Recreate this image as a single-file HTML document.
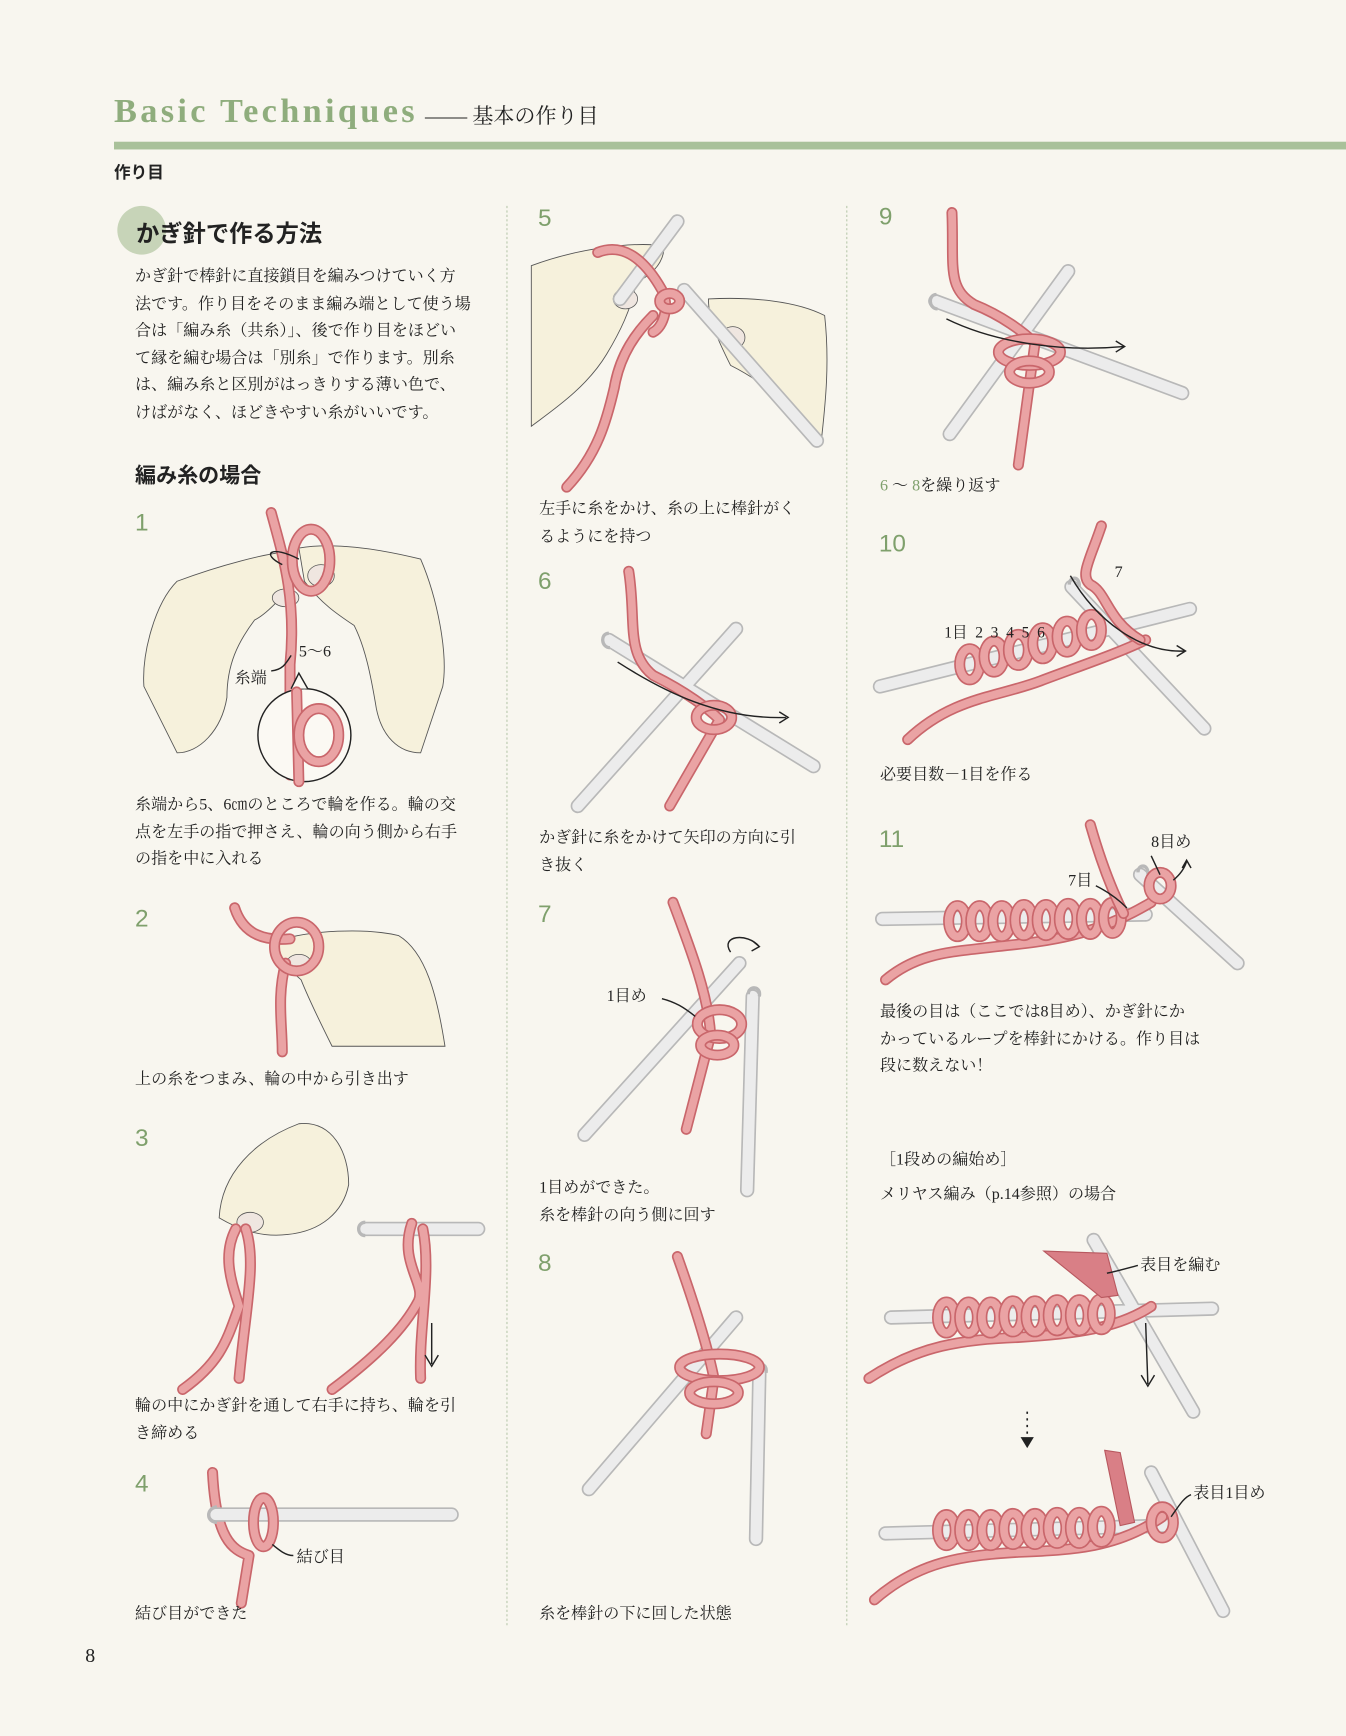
<!DOCTYPE html>
<html><head><meta charset="utf-8">
<style>
html,body{margin:0;padding:0;background:#f8f6ef;}
#wrap{width:1346px;height:1736px;overflow:hidden;position:relative;background:#f8f6ef;}
#page{position:absolute;left:0;top:0;width:1216px;height:1568px;transform:scale(1.10691,1.10714);transform-origin:0 0;}
.t{position:absolute;white-space:nowrap;color:#222;}
.serif{font-family:"Liberation Serif","Noto Serif CJK SC",serif;}
.sans{font-family:"Liberation Sans","Noto Sans CJK JP",sans-serif;}
.num{position:absolute;font-family:"Liberation Sans","DejaVu Sans",sans-serif;color:#7fa06c;font-size:22px;}
.cap{position:absolute;font-family:"Liberation Serif","Noto Serif CJK SC",serif;font-size:14.5px;line-height:24.5px;color:#222;white-space:nowrap;}
svg{position:absolute;left:0;top:0;}
</style></head><body><div id="wrap"><div id="page">
<svg width="1216" height="1568" viewBox="0 0 1216 1568">
<defs>
<style>
.yo{fill:none;stroke:#c9666b;stroke-width:10;stroke-linecap:round;stroke-linejoin:round}
.yi{fill:none;stroke:#eaa3a4;stroke-width:7;stroke-linecap:round;stroke-linejoin:round}
.no{fill:none;stroke:#b8b8b8;stroke-width:13;stroke-linecap:round}
.ni{fill:none;stroke:#ececec;stroke-width:10;stroke-linecap:round}
.hand{fill:#f6f1dc;stroke:#555;stroke-width:0.8}
.ln{fill:none;stroke:#222;stroke-width:1.3}
</style>
</defs>
<!-- header bar -->
<rect x="103" y="128" width="1113" height="7" fill="#a9c19a"/>
<!-- column lines -->
<line x1="458" y1="186" x2="458" y2="1468" stroke="#b9c9ad" stroke-width="1" stroke-dasharray="2,2"/>
<line x1="765" y1="186" x2="765" y2="1468" stroke="#b9c9ad" stroke-width="1" stroke-dasharray="2,2"/>
<circle cx="128" cy="208" r="22" fill="#c7d4b8"/>

<!-- STEP 1 -->
<path class="hand" d="M130,620 C128,590 140,545 160,525 C200,510 240,500 262,498 L265,525 C255,540 240,555 230,560 C215,580 205,600 205,630 C200,660 180,680 160,680 Z"/>
<path class="hand" d="M400,620 C405,590 395,540 380,505 C340,495 300,490 270,495 L275,525 C290,545 305,555 320,565 C330,585 335,610 340,640 C345,665 360,680 380,680 Z"/>
<ellipse cx="258" cy="540" rx="12" ry="8" fill="#efe6e0" stroke="#555" stroke-width=".7"/>
<ellipse cx="290" cy="520" rx="12" ry="10" fill="#efe6e0" stroke="#555" stroke-width=".7"/>
<path class="yo" d="M245,463 C255,500 268,540 262,600 L262,700"/>
<path class="yi" d="M245,463 C255,500 268,540 262,600 L262,700"/>
<ellipse cx="281" cy="506" rx="17" ry="28" class="yo"/><ellipse cx="281" cy="506" rx="17" ry="28" class="yi"/>
<path class="ln" d="M255,510 C235,500 245,492 270,505"/>
<circle cx="275" cy="664" r="42" fill="#fbf9f3" stroke="#222" stroke-width="1.3"/>
<path d="M263,622 L270,608 L278,622" fill="#fbf9f3" stroke="#222" stroke-width="1.3"/>
<path class="yo" d="M268,625 L270,706"/><path class="yi" d="M268,625 L270,706"/>
<ellipse cx="288" cy="664" rx="18" ry="24" class="yo"/><ellipse cx="288" cy="664" rx="18" ry="24" class="yi"/>
<path class="ln" d="M245,606 C255,605 258,600 263,592"/>
<!-- STEP 2 -->
<path class="hand" d="M250,850 C280,840 330,838 360,845 C385,860 395,900 402,945 L300,945 C290,925 280,905 272,885 C260,875 250,862 250,850 Z"/>
<ellipse cx="270" cy="870" rx="11" ry="8" fill="#efe6e0" stroke="#555" stroke-width=".7"/>
<path class="yo" d="M212,820 C220,845 240,850 262,848 M258,870 C250,900 255,925 255,950"/><path class="yi" d="M212,820 C220,845 240,850 262,848 M258,870 C250,900 255,925 255,950"/>
<ellipse cx="268" cy="855" rx="20" ry="22" class="yo"/><ellipse cx="268" cy="855" rx="20" ry="22" class="yi"/>
<!-- STEP 3 -->
<path class="hand" d="M198,1100 C200,1060 230,1030 270,1015 C300,1012 315,1040 315,1070 C310,1095 290,1112 260,1115 C235,1118 215,1110 198,1100 Z"/>
<ellipse cx="226" cy="1104" rx="12" ry="9" fill="#efe6e0" stroke="#555" stroke-width=".7"/>
<path class="yo" d="M213,1110 C200,1135 210,1160 216,1180 C205,1210 200,1230 165,1255 M222,1110 C232,1140 222,1180 216,1245"/><path class="yi" d="M213,1110 C200,1135 210,1160 216,1180 C205,1210 200,1230 165,1255 M222,1110 C232,1140 222,1180 216,1245"/>
<path class="no" d="M330,1110 L432,1110"/><path class="ni" d="M330,1110 L432,1110"/>
<path d="M330,1104 C322,1104 322,1116 330,1116" fill="none" stroke="#b8b8b8" stroke-width="3"/>
<path class="yo" d="M372,1105 C360,1140 385,1160 378,1175 C365,1200 340,1225 300,1255 M382,1110 C390,1150 378,1200 380,1245"/><path class="yi" d="M372,1105 C360,1140 385,1160 378,1175 C365,1200 340,1225 300,1255 M382,1110 C390,1150 378,1200 380,1245"/>
<path class="ln" d="M390,1195 L390,1232 M384,1224 L390,1234 L396,1224"/>
<!-- STEP 4 -->
<path class="yo" d="M192,1330 C195,1390 210,1400 225,1405 L218,1448"/><path class="yi" d="M192,1330 C195,1390 210,1400 225,1405 L218,1448"/>
<path class="no" d="M195,1368 L408,1368"/><path class="ni" d="M195,1368 L408,1368"/>
<path d="M196,1361 C186,1362 186,1375 196,1375" fill="none" stroke="#b8b8b8" stroke-width="3"/>
<ellipse cx="238" cy="1375" rx="9" ry="22" class="yo"/><ellipse cx="238" cy="1375" rx="9" ry="22" class="yi"/>
<path class="ln" d="M246,1395 C252,1400 258,1405 265,1405"/>

<!-- STEP 5 -->
<path class="hand" d="M480,240 C520,225 570,218 600,222 C600,240 585,250 575,255 C570,280 560,300 548,320 C530,350 500,370 480,385 Z"/>
<path class="hand" d="M640,270 C680,268 720,272 745,285 C750,330 745,370 742,398 C720,370 690,345 660,330 C650,310 640,290 640,270 Z"/>
<ellipse cx="565" cy="270" rx="11" ry="9" fill="#efe6e0" stroke="#555" stroke-width=".7"/>
<ellipse cx="662" cy="305" rx="11" ry="10" fill="#efe6e0" stroke="#555" stroke-width=".7"/>
<path class="no" d="M612,200 L560,270 M618,262 L738,398"/><path class="ni" d="M612,200 L560,270 M618,262 L738,398"/>
<path class="yo" d="M540,228 C560,220 580,230 598,262 C605,275 600,295 590,300 M590,285 C575,300 560,320 555,350 C548,380 540,410 512,440"/><path class="yi" d="M540,228 C560,220 580,230 598,262 C605,275 600,295 590,300 M590,285 C575,300 560,320 555,350 C548,380 540,410 512,440"/>
<ellipse cx="605" cy="272" rx="9" ry="7" class="yo"/><ellipse cx="605" cy="272" rx="9" ry="7" class="yi"/>
<!-- STEP 6 -->
<path class="no" d="M665,568 L522,728 M550,578 L735,692"/><path class="ni" d="M665,568 L522,728 M550,578 L735,692"/>
<path d="M550,572 C542,572 543,585 551,585" fill="none" stroke="#b8b8b8" stroke-width="3"/>
<path class="yo" d="M568,516 C575,560 565,590 590,610 C620,625 640,640 650,650 L605,728"/><path class="yi" d="M568,516 C575,560 565,590 590,610 C620,625 640,640 650,650 L605,728"/>
<ellipse cx="645" cy="648" rx="16" ry="11" class="yo"/><ellipse cx="645" cy="648" rx="16" ry="11" class="yi"/>
<path class="ln" d="M558,598 C600,625 650,650 710,648 M704,643 L712,648 L704,653"/>
<!-- STEP 7 -->
<path class="no" d="M668,870 L528,1025 M680,900 L675,1075"/><path class="ni" d="M668,870 L528,1025 M680,900 L675,1075"/>
<path d="M676,898 C676,890 688,890 686,900" fill="none" stroke="#b8b8b8" stroke-width="3"/>
<path class="yo" d="M608,815 C625,860 640,900 642,935 L620,1020"/><path class="yi" d="M608,815 C625,860 640,900 642,935 L620,1020"/>
<ellipse cx="650" cy="925" rx="20" ry="13" class="yo"/><ellipse cx="650" cy="925" rx="20" ry="13" class="yi"/>
<ellipse cx="648" cy="944" rx="15" ry="9" class="yo"/><ellipse cx="648" cy="944" rx="15" ry="9" class="yi"/>
<path class="ln" d="M598,902 C610,905 618,910 628,918 M660,860 C650,845 675,842 686,855 M680,850 L686,855 L679,859"/>
<!-- STEP 8 -->
<path class="no" d="M665,1190 L532,1345 M686,1240 L683,1390"/><path class="ni" d="M665,1190 L532,1345 M686,1240 L683,1390"/>
<path d="M682,1238 C682,1230 694,1230 692,1240" fill="none" stroke="#b8b8b8" stroke-width="3"/>
<path class="yo" d="M612,1135 C628,1180 640,1220 645,1245 L638,1295"/><path class="yi" d="M612,1135 C628,1180 640,1220 645,1245 L638,1295"/>
<ellipse cx="650" cy="1235" rx="36" ry="12" class="yo"/><ellipse cx="650" cy="1235" rx="36" ry="12" class="yi"/>
<ellipse cx="645" cy="1258" rx="22" ry="10" class="yo"/><ellipse cx="645" cy="1258" rx="22" ry="10" class="yi"/>
<!-- STEP 9 -->
<path class="no" d="M965,245 L858,392 M845,272 L1068,355"/><path class="ni" d="M965,245 L858,392 M845,272 L1068,355"/>
<path d="M846,266 C838,266 839,279 847,279" fill="none" stroke="#b8b8b8" stroke-width="3"/>
<path class="yo" d="M860,192 C862,240 855,260 880,275 C905,285 925,300 935,310 L920,420"/><path class="yi" d="M860,192 C862,240 855,260 880,275 C905,285 925,300 935,310 L920,420"/>
<ellipse cx="930" cy="318" rx="28" ry="12" class="yo"/><ellipse cx="930" cy="318" rx="28" ry="12" class="yi"/>
<ellipse cx="930" cy="336" rx="18" ry="10" class="yo"/><ellipse cx="930" cy="336" rx="18" ry="10" class="yi"/>
<path class="ln" d="M855,288 C900,310 960,318 1015,313 M1008,308 L1016,313 L1008,318"/>
<!-- STEP 10 -->
<path class="no" d="M795,620 L1075,550 M968,530 L1088,658"/><path class="ni" d="M795,620 L1075,550 M968,530 L1088,658"/>
<path d="M966,528 C966,520 976,520 975,530" fill="none" stroke="#b8b8b8" stroke-width="3"/>
<path class="yo" d="M820,668 C860,630 900,630 940,615 C980,600 1010,590 1035,578"/><path class="yi" d="M820,668 C860,630 900,630 940,615 C980,600 1010,590 1035,578"/>
<g>
<ellipse cx="876" cy="600" rx="9" ry="14" class="yo"/><ellipse cx="876" cy="600" rx="9" ry="14" class="yi"/>
<ellipse cx="898" cy="593" rx="9" ry="14" class="yo"/><ellipse cx="898" cy="593" rx="9" ry="14" class="yi"/>
<ellipse cx="920" cy="587" rx="9" ry="14" class="yo"/><ellipse cx="920" cy="587" rx="9" ry="14" class="yi"/>
<ellipse cx="942" cy="581" rx="9" ry="14" class="yo"/><ellipse cx="942" cy="581" rx="9" ry="14" class="yi"/>
<ellipse cx="964" cy="575" rx="9" ry="14" class="yo"/><ellipse cx="964" cy="575" rx="9" ry="14" class="yi"/>
<ellipse cx="986" cy="569" rx="9" ry="14" class="yo"/><ellipse cx="986" cy="569" rx="9" ry="14" class="yi"/>
</g>
<path class="yo" d="M995,475 C985,505 975,520 985,528 C1000,535 1000,560 1030,578"/><path class="yi" d="M995,475 C985,505 975,520 985,528 C1000,535 1000,560 1030,578"/>
<path class="ln" d="M967,520 C990,560 1030,590 1070,588 M1063,583 L1071,588 L1063,593"/>
<!-- STEP 11 -->
<path class="no" d="M797,830 L1035,826 M1030,790 L1118,870"/><path class="ni" d="M797,830 L1035,826 M1030,790 L1118,870"/>
<path d="M1028,788 C1028,780 1038,780 1037,790" fill="none" stroke="#b8b8b8" stroke-width="3"/>
<path class="yo" d="M800,885 C830,860 860,860 900,855 C950,850 990,845 1040,815"/><path class="yi" d="M800,885 C830,860 860,860 900,855 C950,850 990,845 1040,815"/>
<g id="ch11">
<ellipse cx="865" cy="832" rx="8" ry="14" class="yo"/><ellipse cx="865" cy="832" rx="8" ry="14" class="yi"/>
<ellipse cx="885" cy="832" rx="8" ry="14" class="yo"/><ellipse cx="885" cy="832" rx="8" ry="14" class="yi"/>
<ellipse cx="905" cy="832" rx="8" ry="14" class="yo"/><ellipse cx="905" cy="832" rx="8" ry="14" class="yi"/>
<ellipse cx="925" cy="831" rx="8" ry="14" class="yo"/><ellipse cx="925" cy="831" rx="8" ry="14" class="yi"/>
<ellipse cx="945" cy="831" rx="8" ry="14" class="yo"/><ellipse cx="945" cy="831" rx="8" ry="14" class="yi"/>
<ellipse cx="965" cy="830" rx="8" ry="14" class="yo"/><ellipse cx="965" cy="830" rx="8" ry="14" class="yi"/>
<ellipse cx="985" cy="830" rx="8" ry="14" class="yo"/><ellipse cx="985" cy="830" rx="8" ry="14" class="yi"/>
<ellipse cx="1005" cy="829" rx="8" ry="14" class="yo"/><ellipse cx="1005" cy="829" rx="8" ry="14" class="yi"/>
</g>
<path class="yo" d="M985,745 C995,780 1005,805 1015,825"/><path class="yi" d="M985,745 C995,780 1005,805 1015,825"/>
<ellipse cx="1048" cy="800" rx="10" ry="12" class="yo"/><ellipse cx="1048" cy="800" rx="10" ry="12" class="yi"/>
<path class="ln" d="M1060,795 C1066,790 1070,785 1072,778 M1068,784 L1072,777 L1076,784 M990,800 C1000,805 1010,812 1018,820 M1040,773 L1048,790"/>
<!-- bottom 1 -->
<path class="no" d="M805,1190 L1095,1182 M988,1120 L1078,1275"/><path class="ni" d="M805,1190 L1095,1182 M988,1120 L1078,1275"/>
<path class="yo" d="M785,1245 C830,1215 870,1210 920,1208 C970,1205 1010,1200 1040,1180"/><path class="yi" d="M785,1245 C830,1215 870,1210 920,1208 C970,1205 1010,1200 1040,1180"/>
<use href="#ch11" transform="translate(-10,358)"/>
<path d="M943,1130 L1000,1132 L1010,1170 L995,1172 Z" fill="#d97f86" stroke="#b8585f"/>
<path class="ln" d="M1000,1150 C1010,1148 1020,1145 1028,1143 M1035,1195 L1037,1250 M1031,1242 L1037,1252 L1043,1242"/>
<path d="M928,1275 L928,1303" stroke="#222" stroke-width="1.5" stroke-dasharray="2,4"/>
<path d="M922,1298 L928,1308 L934,1298 Z" fill="#222"/>
<!-- bottom 2 -->
<path class="no" d="M800,1385 L1055,1378 M1040,1330 L1105,1455"/><path class="ni" d="M800,1385 L1055,1378 M1040,1330 L1105,1455"/>
<path class="yo" d="M790,1445 C830,1410 870,1405 920,1402 C970,1400 1010,1398 1050,1370"/><path class="yi" d="M790,1445 C830,1410 870,1405 920,1402 C970,1400 1010,1398 1050,1370"/>
<use href="#ch11" transform="translate(-10,550)"/>
<path d="M998,1310 L1012,1312 L1025,1375 L1012,1378 Z" fill="#d97f86" stroke="#b8585f"/>
<ellipse cx="1050" cy="1375" rx="10" ry="14" class="yo"/><ellipse cx="1050" cy="1375" rx="10" ry="14" class="yi"/>
<path class="ln" d="M1058,1370 C1065,1360 1070,1352 1076,1350"/>
</svg>

<div class="t serif" style="left:103px;top:82px;font-size:31px;font-weight:bold;color:#8fad7d;letter-spacing:3px;">Basic Techniques</div>
<div class="t serif" style="left:384px;top:90px;font-size:19px;">—— 基本の作り目</div>
<div class="t sans" style="left:103px;top:145px;font-size:15px;font-weight:bold;">作り目</div>
<div class="t sans" style="left:123px;top:195px;font-size:21px;font-weight:bold;">かぎ針で作る方法</div>
<div class="cap" style="left:122px;top:238px;font-size:14.5px;">かぎ針で棒針に直接鎖目を編みつけていく方<br>法です。作り目をそのまま編み端として使う場<br>合は「編み糸（共糸）」、後で作り目をほどい<br>て縁を編む場合は「別糸」で作ります。別糸<br>は、編み糸と区別がはっきりする薄い色で、<br>けばがなく、ほどきやすい糸がいいです。</div>
<div class="t sans" style="left:122px;top:415px;font-size:19px;font-weight:bold;">編み糸の場合</div>

<div class="num" style="left:122px;top:459px;">1</div>
<div class="num" style="left:122px;top:817px;">2</div>
<div class="num" style="left:122px;top:1015px;">3</div>
<div class="num" style="left:122px;top:1327px;">4</div>
<div class="num" style="left:486px;top:184px;">5</div>
<div class="num" style="left:486px;top:512px;">6</div>
<div class="num" style="left:486px;top:813px;">7</div>
<div class="num" style="left:486px;top:1128px;">8</div>
<div class="num" style="left:794px;top:183px;">9</div>
<div class="num" style="left:794px;top:478px;">10</div>
<div class="num" style="left:794px;top:745px;">11</div>

<div class="cap" style="left:212px;top:601px;">糸端</div>
<div class="cap" style="left:270px;top:577px;">5～6</div>
<div class="cap" style="left:268px;top:1395px;">結び目</div>
<div class="cap" style="left:548px;top:888px;">1目め</div>
<div class="cap" style="left:853px;top:561px;font-size:14px;">1目 &nbsp;2 &nbsp;3 &nbsp;4 &nbsp;5 &nbsp;6</div>
<div class="cap" style="left:1007px;top:505px;">7</div>
<div class="cap" style="left:965px;top:784px;">7目</div>
<div class="cap" style="left:1040px;top:749px;">8目め</div>
<div class="cap" style="left:1030px;top:1131px;">表目を編む</div>
<div class="cap" style="left:1078px;top:1337px;">表目1目め</div>

<div class="cap" style="left:122px;top:715px;">糸端から5、6㎝のところで輪を作る。輪の交<br>点を左手の指で押さえ、輪の向う側から右手<br>の指を中に入れる</div>
<div class="cap" style="left:122px;top:963px;">上の糸をつまみ、輪の中から引き出す</div>
<div class="cap" style="left:122px;top:1258px;">輪の中にかぎ針を通して右手に持ち、輪を引<br>き締める</div>
<div class="cap" style="left:122px;top:1446px;">結び目ができた</div>
<div class="cap" style="left:487px;top:448px;">左手に糸をかけ、糸の上に棒針がく<br>るようにを持つ</div>
<div class="cap" style="left:487px;top:745px;">かぎ針に糸をかけて矢印の方向に引<br>き抜く</div>
<div class="cap" style="left:487px;top:1061px;">1目めができた。<br>糸を棒針の向う側に回す</div>
<div class="cap" style="left:487px;top:1446px;">糸を棒針の下に回した状態</div>
<div class="cap" style="left:795px;top:427px;"><span style="color:#7fa06c">6</span> ～ <span style="color:#7fa06c">8</span>を繰り返す</div>
<div class="cap" style="left:795px;top:688px;">必要目数－1目を作る</div>
<div class="cap" style="left:795px;top:902px;">最後の目は（ここでは8目め）、かぎ針にか<br>かっているループを棒針にかける。作り目は<br>段に数えない！</div>
<div class="cap" style="left:795px;top:1036px;">［1段めの編始め］</div>
<div class="cap" style="left:795px;top:1067px;">メリヤス編み（p.14参照）の場合</div>
<div class="t serif" style="left:77px;top:1485px;font-size:18px;">8</div>
</div></div></body></html>
